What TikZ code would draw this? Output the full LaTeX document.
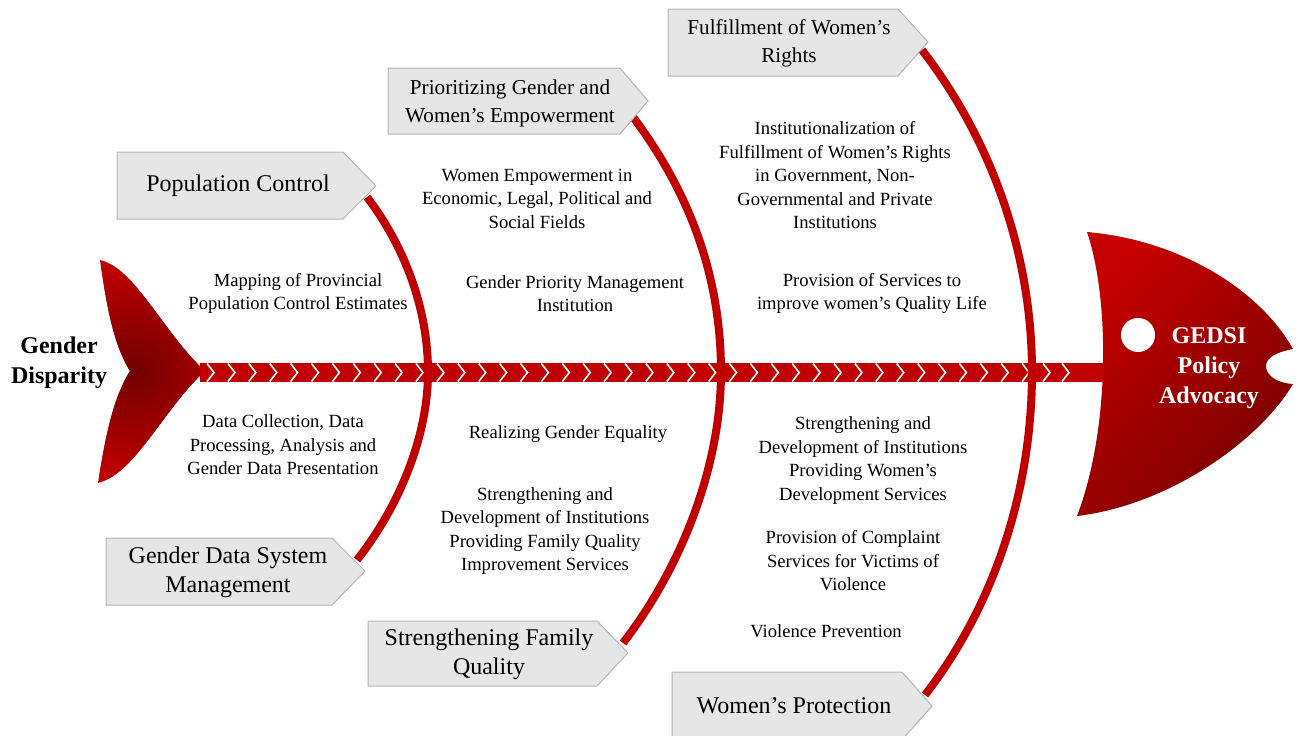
\documentclass[tikz,border=0pt]{standalone}
\usepackage{fontspec}
\setmainfont{Liberation Serif}
\definecolor{fishred}{HTML}{C00000}
\definecolor{deepred}{HTML}{780000}
\definecolor{boxfill}{HTML}{E6E6E6}
\definecolor{boxline}{HTML}{B4B4B4}
\tikzset{
  rib/.style={draw=fishred, line width=4pt},
  chev/.style={draw=white, line width=0.8pt},
  catbox/.style={draw=boxline, fill=boxfill, line width=0.5pt},
  catlabel/.style={align=center, font=\fontsize{12}{14.5}\selectfont, inner sep=0pt},
  catlabelsmall/.style={align=center, font=\fontsize{10.6}{14}\selectfont, inner sep=0pt},
  causetext/.style={align=center, font=\fontsize{9.3}{11.75}\selectfont, inner sep=0pt},
  endlabel/.style={align=center, font=\bfseries\fontsize{12}{15}\selectfont, inner sep=0pt},
}
\begin{document}
\begin{tikzpicture}[x=0.5pt,y=-0.5pt]
\useasboundingbox (0,0) rectangle (1298,735);

% tail
\fill[fishred] (100,260) .. controls (135,268) and (165,335) .. (205,371)
  .. controls (165,407) and (135,474) .. (98,483)
  .. controls (105,440) and (112,400) .. (130,371)
  .. controls (112,342) and (106,300) .. (100,260) -- cycle;
\begin{scope}
\clip (100,260) .. controls (135,268) and (165,335) .. (205,371)
  .. controls (165,407) and (135,474) .. (98,483)
  .. controls (105,440) and (112,400) .. (130,371)
  .. controls (112,342) and (106,300) .. (100,260) -- cycle;
\shade[inner color=deepred!95!black, outer color=fishred] (135,371) circle (55pt);
\end{scope}

% spine band
\fill[fishred] (200,363) rectangle (1112,382);
\foreach \i in {0,...,40} {
  \pgfmathsetmacro\cx{210+\i*20.9}
  \draw[chev] (\cx-3,363.5) -- (\cx+4,372.5) -- (\cx-3,381.5);
}
\draw[chev] (1062,363.5) -- (1069,372.5) -- (1062,381.5);

% ribs
\coordinate (r1a) at (367,197); \coordinate (r1m) at (428,372); \coordinate (r1b) at (357,560);
\coordinate (r2a) at (633,117); \coordinate (r2m) at (721,372); \coordinate (r2b) at (623,643);
\coordinate (r3a) at (922,50);  \coordinate (r3m) at (1032,372); \coordinate (r3b) at (925,695);
\draw[rib] (r1a) .. controls (405,247) and (428,309) .. (r1m) .. controls (428,438) and (398,508) .. (r1b);
\draw[rib] (r2a) .. controls (690,193) and (721,277) .. (r2m) .. controls (721,467) and (681,568) .. (r2b);
\draw[rib] (r3a) .. controls (993,142) and (1032,256) .. (r3m) .. controls (1032,488) and (996,603) .. (r3b);

% head
\shade[top color=fishred!90!red, bottom color=deepred, shading angle=45]
  (1087,232) .. controls (1180,240) and (1260,290) .. (1293,349)
  .. controls (1276,352) and (1266,358) .. (1266,366)
  .. controls (1266,375) and (1276,383) .. (1293,384)
  .. controls (1260,440) and (1170,505) .. (1077,516)
  .. controls (1110,430) and (1110,300) .. (1087,232) -- cycle;
\fill[white] (1138,335) circle (8.5pt);

% category boxes
\draw[catbox] (117,152) -- (343,152) -- (376,186) -- (343,219) -- (117,219) -- cycle;
\node[catlabel] (pc) at (238,186) {Population Control};
\draw[catbox] (388,68) -- (620,68) -- (648,101) -- (620,134) -- (388,134) -- cycle;
\node[catlabelsmall] (pg) at (510,103) {Prioritizing Gender and\\Women’s Empowerment};
\draw[catbox] (668,9) -- (898,9) -- (928,42) -- (898,76) -- (668,76) -- cycle;
\node[catlabelsmall] (fw) at (789,43) {Fulfillment of Women’s\\Rights};
\draw[catbox] (106,538) -- (332,538) -- (365,571) -- (332,605) -- (106,605) -- cycle;
\node[catlabel] (gd) at (228,572) {Gender Data System\\Management};
\draw[catbox] (368,621) -- (597,621) -- (628,653) -- (597,686) -- (368,686) -- cycle;
\node[catlabel] (sf) at (489,654) {Strengthening Family\\Quality};
\draw[catbox] (672,672) -- (902,672) -- (932,706) -- (902,740) -- (672,740) -- cycle;
\node[catlabel] (wp) at (794,706) {Women’s Protection};

% end labels
\node[endlabel] (src) at (59,363) {Gender\\Disparity};
\node[endlabel, text=white] (goal) at (1209,368) {GEDSI\\Policy\\Advocacy};

% cause texts
\node[causetext] (t1) at (298,293.5) {Mapping of Provincial\\Population Control Estimates};
\node[causetext] (t2) at (283,445) {Data Collection, Data\\Processing, Analysis and\\Gender Data Presentation};
\node[causetext] (t3) at (537,198.5) {Women Empowerment in\\Economic, Legal, Political and\\Social Fields};
\node[causetext] (t4) at (575,293.5) {Gender Priority Management\\Institution};
\node[causetext] (t5) at (568,434) {Realizing Gender Equality};
\node[causetext] (t6) at (545,531) {Strengthening and\\Development of Institutions\\Providing Family Quality\\Improvement Services};
\node[causetext] (t7) at (835,175.5) {Institutionalization of\\Fulfillment of Women’s Rights\\in Government, Non-\\Governmental and Private\\Institutions};
\node[causetext] (t8) at (872,293.5) {Provision of Services to\\improve women’s Quality Life};
\node[causetext] (t9) at (863,460.5) {Strengthening and\\Development of Institutions\\Providing Women’s\\Development Services};
\node[causetext] (t10) at (853,561) {Provision of Complaint\\Services for Victims of\\Violence};
\node[causetext] (t11) at (826,631) {Violence Prevention};
\end{tikzpicture}
\end{document}
